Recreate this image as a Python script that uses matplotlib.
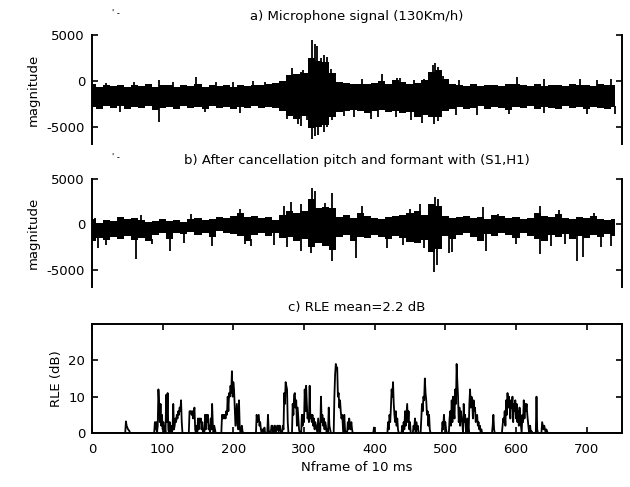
import numpy as np
import matplotlib
matplotlib.use("Agg")
import matplotlib.pyplot as plt

# ---------------- data ----------------
env_frames = list(range(0, 750, 10))

mic_upper = [-300, -700, -500, -600, -450, -700, -500, -600, -400, -650,
             -500, -450, -700, -500, -600, -400, -650, -500, -550, -450,
             -650, -500, -600, -450, -500, -300, -200, 0, 600, 700,
             800, 2500, 2200, 2000, 900, -100, -200, -400, -300, -350,
             -200, 0, -300, 100, -100, -300, -200, 100, 1000, 1200,
             200, -300, -500, -600, -400, -600, -500, -450, -600, -400,
             -300, -500, -600, -400, -550, -450, -500, -600, -400, -500,
             -450, -550, -400, -500, -450]
mic_lower = [-2900, -3100, -2800, -3000, -2700, -3100, -2900, -3000, -2800, -3200,
             -3000, -2900, -3100, -2800, -3000, -2900, -3100, -2800, -3000, -2900,
             -3100, -2900, -3000, -2800, -3000, -2900, -3000, -3300, -3800, -4200,
             -3800, -5200, -5000, -4800, -3900, -3400, -3300, -3200, -3300, -3500,
             -3300, -3200, -3400, -3300, -3500, -3400, -3900, -3700, -4000, -3900,
             -3300, -3100, -2900, -3100, -3000, -2800, -3100, -2900, -3000, -3200,
             -2900, -3000, -2800, -3100, -2900, -3000, -3100, -2800, -3000, -2900,
             -3100, -2900, -3000, -3100, -2900]
mic_spike_up_f = [20, 60, 95, 115, 147, 175, 200, 228, 245, 283, 296, 299, 312, 315,
                  318, 324, 329, 332, 338, 344, 382, 411, 432, 436, 455, 470, 483,
                  486, 490, 497, 520, 601, 640, 690, 715, 735]
mic_spike_up_v = [-200, -150, 100, -100, 400, -150, -100, -50, -100, 1400, 1000, 1200,
                  4400, 4000, 3800, 2500, 2800, 2600, 1300, 300, 200, 700, 300, 350,
                  100, 200, 1700, 1900, 1500, 500, 100, 400, 200, 150, 100, 150]
mic_spike_dn_f = [40, 95, 160, 210, 276, 291, 296, 304, 312, 315, 320, 328, 332, 340,
                  356, 371, 395, 405, 430, 452, 467, 484, 490, 515, 545, 590, 640,
                  700, 740]
mic_spike_dn_v = [-3400, -4500, -3400, -3500, -4200, -4700, -4900, -4300, -6300, -6000,
                  -5900, -5600, -5000, -4300, -3800, -3900, -4200, -3900, -4000, -4300,
                  -4600, -4700, -4400, -3700, -3700, -3600, -3500, -3600, -3600]

canc_upper = [600, 200, 500, 400, 800, 600, 700, 500, 300, 400,
              600, 400, 500, 300, 600, 700, 500, 600, 800, 700,
              900, 1200, 800, 900, 700, 800, 500, 1000, 1500, 1300,
              1500, 2800, 1800, 1900, 1800, 800, 1000, 700, 1200, 900,
              700, 600, 800, 900, 1000, 1200, 1500, 1000, 2200, 2000,
              900, 700, 800, 900, 700, 800, 600, 1000, 900, 700,
              800, 600, 700, 1300, 900, 800, 1100, 700, 600, 800,
              700, 900, 600, 500, 600]
canc_lower = [-1800, -1500, -1700, -1400, -1600, -1300, -1700, -1500, -1800, -1200,
              -1000, -1600, -900, -1100, -800, -1200, -1000, -1400, -700, -900,
              -1100, -1300, -1800, -1200, -900, -1300, -1000, -1500, -1400, -1800,
              -1600, -2500, -2000, -2400, -2800, -1400, -1200, -1800, -1400, -1500,
              -1200, -1400, -1600, -1300, -1500, -1900, -2000, -1700, -3000, -2700,
              -1300, -1600, -1200, -1000, -1400, -1800, -1100, -1300, -1000, -1200,
              -1500, -1000, -1300, -1600, -1800, -1200, -1400, -1100, -1600, -1300,
              -1500, -1200, -1400, -1100, -1300]
canc_spike_up_f = [4, 70, 140, 210, 272, 281, 296, 312, 315, 330, 340, 382, 450, 464,
                   486, 489, 553, 575, 634, 661, 711]
canc_spike_up_v = [700, 1000, 1100, 1700, 2000, 2500, 2300, 4000, 3700, 2400, 3500,
                   2000, 1700, 2300, 3000, 2800, 1900, 1100, 2000, 1600, 1200]
canc_spike_dn_f = [8, 20, 62, 85, 110, 130, 170, 216, 225, 258, 276, 296, 310, 340,
                   373, 418, 440, 470, 484, 488, 505, 510, 557, 600, 634, 650, 670,
                   687, 695, 720, 735]
canc_spike_dn_v = [-2600, -2300, -3800, -2200, -2900, -2000, -2400, -2200, -2400, -2300,
                   -2500, -2900, -3100, -4000, -3700, -2600, -2300, -2600, -5200, -4500,
                   -3200, -3000, -2900, -2200, -3300, -2400, -2200, -4000, -3600, -2500,
                   -2400]

rle_frames = [48, 49, 50, 51, 52, 53,
              89, 90, 91, 93, 94, 95, 96, 97, 98, 99, 100, 101, 103, 105, 106, 107, 108,
              110, 111, 112, 114, 115, 116, 117, 118, 119, 120, 121, 122, 123, 124, 125,
              126, 127,
              138, 139, 140, 141, 142, 143, 144, 145, 146, 148, 150, 151, 152, 153, 154,
              155, 156, 158, 160, 161, 162, 163, 164, 165, 166, 168, 169, 170, 171, 173, 174,
              184, 185, 186, 187, 188, 189, 190, 191, 192, 193, 194, 195, 196, 197, 198,
              199, 200, 201, 202, 203, 204, 205, 206, 207, 208, 209, 212, 213,
              233, 234, 235, 236, 237, 238, 239, 241, 244, 249, 250, 254, 255, 256, 258,
              259, 261, 262, 263, 264, 265, 266,
              270, 271, 272, 273, 274, 275, 276, 277,
              284, 285, 286, 287, 288, 289, 290, 291, 292, 293,
              297, 298, 299, 300, 301, 302, 303, 304, 305, 306, 307, 308, 309, 310, 311,
              312, 313, 314, 315, 316, 317, 318, 320, 321,
              324, 325, 326, 327, 328, 329, 330, 331, 333, 335, 336, 337,
              343, 344, 345, 346, 347, 348, 349, 350, 351, 352, 353, 354, 355, 357, 358,
              362, 363, 364, 365, 366, 367, 368,
              399,
              419, 420, 421, 422, 423, 424, 425, 426, 427, 428, 429, 430, 431, 432, 433,
              439, 441, 442, 443, 444, 445, 446, 447, 448, 449, 450,
              455, 456, 457, 459, 460, 461,
              466, 467, 468, 469, 470, 471, 472, 473, 474, 475, 476, 477, 478,
              496, 497, 498, 499, 500, 501,
              506, 507, 508, 509, 510, 511, 512, 513, 514, 515, 516, 517, 518, 519, 520,
              521, 522, 523, 524, 526, 527, 528, 529, 531, 532, 534, 535, 536, 537, 538,
              539, 540, 541, 542, 543, 544, 545, 546, 547, 548, 549, 551,
              567, 568, 569,
              581, 582, 583, 584, 585, 586, 587, 588, 589, 590, 591, 592, 593, 594, 595,
              596, 597, 598, 599, 600, 601, 602, 603, 604, 605, 606, 607, 609, 610, 611,
              612, 613, 614, 615, 616, 617, 618, 620, 622,
              629, 630, 637, 638, 639, 640, 641, 643, 644]
rle_values = [3.2, 2, 1.5, 1, 0.8, 0.5,
              3, 1, 3, 2, 12, 8, 3, 8, 2, 5, 1, 3, 2, 10.5, 3, 11, 1,
              3, 0.5, 2, 1, 8, 1, 2, 4, 3, 5, 4, 6, 5, 7, 6,
              9, 3,
              6, 6, 6, 5, 6, 4, 6, 7, 1, 2, 4, 1, 4, 3, 4,
              1, 3, 1, 5, 1, 5, 3, 5, 1, 2, 4, 1, 8, 2, 2, 1,
              5, 4, 5, 4, 5, 4, 6, 5, 10, 6, 11, 10, 13, 11, 17,
              10, 14, 12, 7, 2, 5, 8, 2, 1, 9, 2, 2, 0.5,
              5, 3, 4, 5, 2, 3, 1, 1, 1.5, 5, 1, 2, 2, 0.5, 2,
              2, 1, 2, 2, 0.5, 2, 2,
              2, 1, 11, 8, 14, 13, 12, 3,
              8, 5, 10.5, 11, 7, 9, 2, 7, 4, 1,
              5, 2, 5, 3, 12, 6, 13, 8, 4, 5, 3, 13, 4, 5, 3,
              5, 2, 4, 1, 3, 2, 1, 4, 2,
              10, 3, 5, 2, 4, 1, 3, 2, 1, 7, 2, 1,
              10, 16, 19, 18, 18, 10, 11, 7, 9, 6, 4, 5, 2, 5, 1,
              3, 1, 4, 2, 1, 3, 1,
              1.5,
              3, 1, 5, 3, 7, 12, 10, 14, 8, 5, 3, 6, 2, 4, 1,
              2, 3, 1, 6, 2, 5, 8, 3, 6, 1, 3,
              2, 1, 4, 3, 1, 2,
              4, 8, 6, 10, 9, 15, 11, 9, 5, 6, 2, 5, 1,
              3, 1, 5, 2, 3, 1,
              4, 6, 2, 9, 3, 10, 6, 4, 12, 8, 19, 14, 10, 3, 7,
              2, 6, 4, 3, 8, 3, 5, 1, 4, 2, 8, 12, 7, 10, 9,
              4, 9, 6, 7, 3, 4, 5, 2, 3, 1, 2, 1,
              2, 5, 1,
              2, 4, 3, 6, 2, 9, 5, 11, 7, 10, 8, 4, 9, 7, 10,
              3, 8, 6, 9, 4, 8, 3, 6, 2, 7, 4, 2, 5, 3, 9,
              4, 8, 6, 8, 5, 3, 1, 2, 0.5,
              10, 1, 3, 2, 1, 2, 1, 1, 0.5]

titles = ["a) Microphone signal (130Km/h)",
          "b) After cancellation pitch and formant with (S1,H1)",
          "c) RLE mean=2.2 dB"]
xticks = [0, 100, 200, 300, 400, 500, 600, 700]
sig_yticks = [-5000, 0, 5000]
rle_yticks = [0, 10, 20]

# ---------------- figure ----------------
plt.rcParams['font.family'] = ['DejaVu Sans']
FS = 9.5

fig = plt.figure(figsize=(6.3, 4.87), dpi=100)
W, H = 630, 487
def rect(l, t, r, b):
    return [l / W, 1 - b / H, (r - l) / W, (b - t) / H]

ax1 = fig.add_axes(rect(92, 35, 622, 144))
ax2 = fig.add_axes(rect(92, 179, 622, 287))
ax3 = fig.add_axes(rect(92, 324, 622, 433))


def env_at(env, frames):
    return np.array([env[min(int(round(f / 10)), len(env) - 1)] for f in frames])


def draw_signal(ax, up, lo, suf, suv, sdf, sdv, title):
    ax.fill_between(env_frames, lo, up, step='mid', color='black', lw=0)
    ax.vlines(suf, env_at(up, suf) - 200, suv, color='black', lw=1.3)
    ax.vlines(sdf, sdv, env_at(lo, sdf) + 200, color='black', lw=1.3)
    ax.set_xlim(0, 750)
    ax.set_ylim(-6900, 5000)
    ax.set_yticks(sig_yticks)
    ax.set_yticklabels(["-5000", "0", "5000"])
    ax.tick_params(axis='y', direction='in', length=4, width=1.2,
                   left=True, right=True, pad=5, labelsize=FS)
    ax.set_xticks([])
    for s in ['top', 'bottom']:
        ax.spines[s].set_visible(False)
    for s in ['left', 'right']:
        ax.spines[s].set_linewidth(1.4)
    ax.set_ylabel("magnitude", fontsize=FS, labelpad=5)
    ax.set_title(title, fontsize=FS, pad=11)
    ax.text(0.045, 1.2, "' -", transform=ax.transAxes,
            fontsize=6, ha='center', va='center')


draw_signal(ax1, mic_upper, mic_lower, mic_spike_up_f, mic_spike_up_v,
            mic_spike_dn_f, mic_spike_dn_v, titles[0])
draw_signal(ax2, canc_upper, canc_lower, canc_spike_up_f, canc_spike_up_v,
            canc_spike_dn_f, canc_spike_dn_v, titles[1])

rle = np.zeros(751)
rle[rle_frames] = rle_values
ax3.plot(np.arange(751), rle, color='black', lw=1.3)
ax3.set_xlim(0, 750)
ax3.set_ylim(0, 30)
ax3.set_xticks(xticks)
ax3.set_yticks(rle_yticks)
ax3.tick_params(axis='both', direction='in', length=4, width=1.2,
                top=True, right=True, labelsize=FS)
ax3.tick_params(axis='y', pad=5)
ax3.tick_params(axis='x', pad=7)
for s in ax3.spines.values():
    s.set_linewidth(1.4)
ax3.set_ylabel("RLE (dB)", fontsize=FS, labelpad=4)
ax3.set_xlabel("Nframe of 10 ms", fontsize=FS, labelpad=4)
ax3.set_title(titles[2], fontsize=FS, pad=9)

fig.savefig("out.png", dpi=100)
